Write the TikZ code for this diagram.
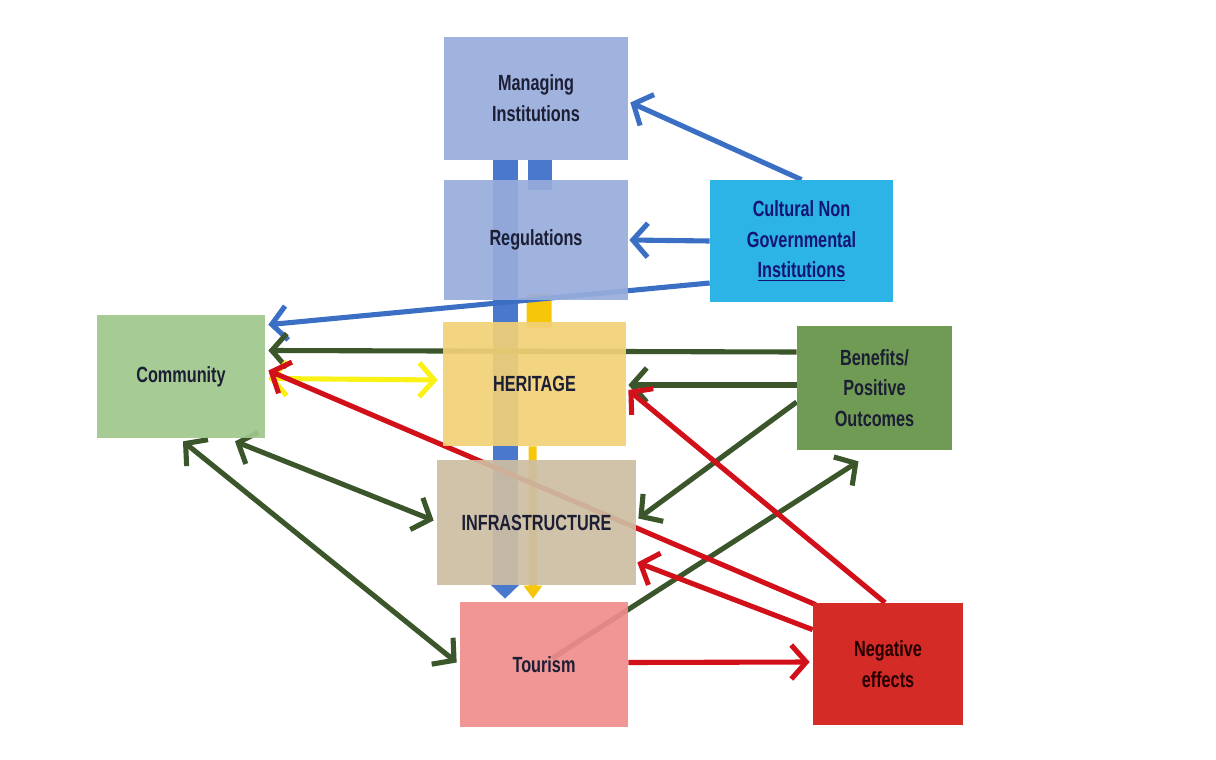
\documentclass[tikz,border=0pt]{standalone}
\usepackage{fontspec}
\setmainfont{Liberation Sans}[FakeStretch=0.74]
\usetikzlibrary{arrows.meta,calc,backgrounds}

\definecolor{miblue}{RGB}{152,172,220}
\definecolor{cngblue}{RGB}{44,180,230}
\definecolor{comgreen}{RGB}{160,199,140}
\definecolor{hergold}{RGB}{242,208,118}
\definecolor{bengreen}{RGB}{111,155,85}
\definecolor{inftan}{RGB}{205,190,162}
\definecolor{toupink}{RGB}{240,140,140}
\definecolor{negred}{RGB}{212,43,39}
\definecolor{lineblue}{RGB}{58,111,196}
\definecolor{linegreen}{RGB}{58,86,42}
\definecolor{lineyellow}{RGB}{250,242,20}
\definecolor{linered}{RGB}{210,16,26}
\definecolor{barblue}{RGB}{74,120,204}
\definecolor{baryellow}{RGB}{246,198,10}
\definecolor{txtdark}{RGB}{28,30,52}

\tikzset{
  box/.style={rectangle, fill opacity=0.92, text opacity=1, align=center,
    inner sep=2pt, font=\bfseries\fontsize{12.5}{17.5}\selectfont, text=txtdark},
  link/.style={line width=2.9pt, -{Straight Barb[length=3mm,width=6.8mm]}},
  twolink/.style={line width=2.9pt, {Straight Barb[length=3mm,width=6.8mm]}-{Straight Barb[length=3mm,width=6.8mm]}},
  bar/.style={line width=0.5cm},
}

\begin{document}
\begin{tikzpicture}[x=0.02cm, y=-0.02cm]
\useasboundingbox (0,0) rectangle (1216,760);

% boxes
\node[box, fill=miblue, minimum width=3.68cm, minimum height=2.46cm] (mi) at (536,98.5) {Managing\\Institutions};
\node[box, fill=miblue, minimum width=3.68cm, minimum height=2.40cm] (reg) at (536,240) {Regulations};
\node[box, fill=cngblue, fill opacity=1, text=txtdark!70!blue, minimum width=3.66cm, minimum height=2.44cm] (cng) at (801.5,241) {Cultural Non\\Governmental\\\underline{Institutions}};
\node[box, fill=comgreen, minimum width=3.36cm, minimum height=2.46cm] (com) at (181,376.5) {Community};
\node[box, fill=hergold, minimum width=3.66cm, minimum height=2.48cm] (her) at (534.5,384) {HERITAGE};
\node[box, fill=bengreen, fill opacity=1, minimum width=3.10cm, minimum height=2.48cm] (ben) at (874.5,388) {Benefits/\\Positive\\Outcomes};
\node[box, fill=inftan, minimum width=3.98cm, minimum height=2.50cm] (inf) at (536.5,522.5) {INFRASTRUCTURE};
\node[box, fill=toupink, minimum width=3.36cm, minimum height=2.50cm] (tou) at (544,664.5) {Tourism};
\node[box, fill=negred, fill opacity=1, text=black!85!red, minimum width=3.00cm, minimum height=2.44cm] (neg) at (888,664) {Negative\\effects};

\begin{pgfonlayer}{background}
% vertical bars behind the central column
\draw[bar, barblue, -{Triangle[length=0.28cm,width=0.56cm]}] ($(mi.south)+(-31,0)$) -- ($(tou.north)+(-39,-3)$);
\draw[bar, barblue, line width=0.48cm] ($(mi.south)+(4,0)$) -- ($(reg.north)+(4,10)$);
\draw[bar, baryellow] ($(reg.south)+(3,-6)$) -- ($(her.north)+(4.5,6)$);
\draw[baryellow, line width=0.16cm, -{Triangle[length=0.26cm,width=0.36cm]}] ($(her.south)+(-2,0)$) -- ($(tou.north)+(-11,-3)$);

% connectors
\draw[link, lineblue] (cng.north) -- ($(mi.east)+(2,4)$);
\draw[link, lineblue] (cng.west) -- ($(reg.east)+(1,0)$);
\draw[link, lineblue] ($(cng.west)+(0,42)$) -- ($(com.north east)+(3,10)$);

\draw[link, linegreen] ($(ben.west)+(0,-36)$) -- ($(com.east)+(3,-26)$);
\draw[link, linegreen] ($(ben.west)+(0,-3)$) -- ($(her.east)+(2,1)$);
\draw[link, linegreen] ($(ben.west)+(0,14)$) -- ($(inf.east)+(2,-4)$);
\draw[link, linegreen] ($(tou.center)+(8,-6)$) -- ($(ben.south)+(-16,11)$);

\draw[twolink, lineyellow] ($(com.east)+(3,2)$) -- ($(her.west)+(-5,-4)$);

\draw[link, linered] ($(neg.north west)+(3,2)$) -- ($(com.east)+(3,-6)$);
\draw[link, linered] ($(neg.north)+(-3,0)$) -- ($(her.east)+(2,6)$);
\draw[link, linered] ($(neg.north west)+(0,27)$) -- ($(inf.east)+(1,40)$);
\draw[link, linered] ($(tou.east)+(0,-2)$) -- ($(neg.west)+(-3,-2)$);

\draw[twolink, linegreen] ($(com.south)+(54,3)$) -- ($(inf.west)+(-3,-2)$);
\draw[twolink, linegreen] ($(com.south)+(2,3)$) -- ($(tou.west)+(-3,-2)$);
\end{pgfonlayer}
\end{tikzpicture}
\end{document}
